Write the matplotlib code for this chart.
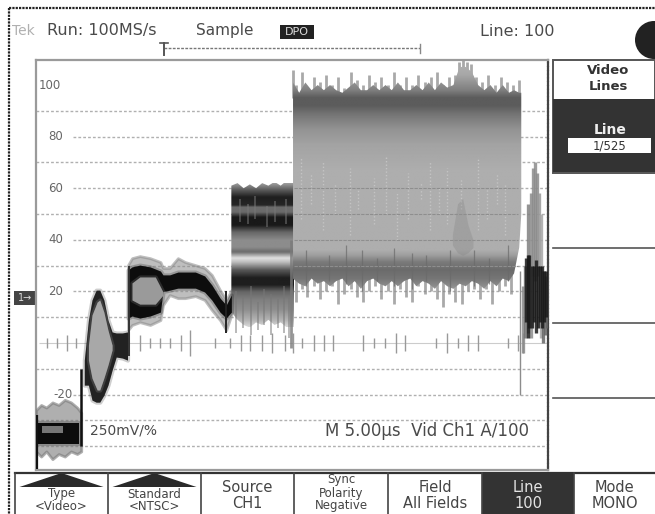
#!/usr/bin/env python3
# Oscilloscope capture of a video line: envelopes (us / IRE)
import numpy as np
import matplotlib
matplotlib.use("Agg")
import matplotlib.pyplot as plt
from matplotlib.patches import Polygon, Rectangle, Circle

W, H = 655, 514

GRID_LEVELS = [90, 80, 70, 60, 50, 40, 30, 20, 10, -10, -20, -30, -40]
GRID_LABELLED = [80, 60, 40, 20, -20]
Y_LABELS = ["100", "80", "60", "40", "20", "-20"]
Y_LABEL_VALUES = [100, 80, 60, 40, 20, -20]
CENTER_TICKS = [1.1, 2.0, 3.0, 3.9, 5.9, 6.2, 10.1, 11.1, 12.1, 13.0, 14.1, 15.0, 17.4, 18.9, 19.9,
                20.8, 22.0, 23.0, 24.2, 25.0, 25.9, 27.0, 28.0, 28.9, 31.8, 32.9, 33.9, 35.0, 35.9,
                38.9, 40.0, 41.0, 42.0, 43.0, 45.9, 46.9, 47.4]
CENTER_TICK_H = [2, 2, 3, 2, 2, 2, 3, 2, 2, 2, 3, 5, 2, 2, 3, 3, 3, 4, 3, 4, 2, 3, 3, 3, 3, 2, 2, 4, 3,
                 2, 4, 2, 3, 3, 2, 3, 4]

# sync tip
SYNC_T = [0.0, 0.5, 1.0, 1.6, 2.2, 2.8, 3.4, 4.0, 4.4]
SYNC_UP = [-26, -24, -25, -23, -24, -22, -23, -25, -27]
SYNC_LO = [-42, -44, -42, -45, -43, -44, -42, -43, -42]
SYNC_DARK_T = [0.2, 4.2]
SYNC_DARK_UP = [-31, -31]
SYNC_DARK_LO = [-39, -39]

# colour burst lens and tail
LENS_T = [4.7, 5.1, 5.45, 5.85, 6.2, 6.6, 7.0, 7.4, 7.8, 8.4, 8.9]
LENS_UP = [-6.6, 8.9, 16.7, 20.5, 20.5, 16.7, 8.9, 4.3, 3.9, 3.9, 4.3]
LENS_LO = [-16.3, -16.3, -22.1, -22.9, -22.9, -20.2, -16.3, -10.5, -5.4, -5.8, -6.6]
LENS_IN_T = [5.1, 5.45, 5.95, 6.2, 6.6, 7.0, 7.4]
LENS_IN_UP = [-0.8, 10.9, 15.9, 16.7, 12, 5, -0.8]
LENS_IN_LO = [-6.6, -13.6, -18.2, -18.2, -13.6, -8.5, -2.7]

# first step, plateau and trough
STEP_T = [8.95, 9.34, 10.1, 11.1, 12.1, 12.35, 13.0, 13.8, 14.5, 15.5, 16.4, 17.1, 17.9, 18.5, 19.0]
STEP_UP = [30.2, 32.9, 33.7, 32.9, 31.4, 29.1, 29.1, 32.9, 31.4, 30.2, 29.1, 26.4, 20.5, 16.7, 20.5]
STEP_LO = [5, 7, 8.1, 7, 8.9, 14.7, 18.6, 17.4, 17.4, 18.2, 16.7, 12.8, 8.9, 5, 10.9]
STEP_DARK_UP = [28.3, 29.5, 30.2, 29.5, 27.9, 26.4, 26.4, 27.5, 27.5, 27.5, 26, 22.5, 17.4, 14.7, 18.6]
STEP_DARK_LO = [9.7, 10.5, 9.7, 10.5, 12, 20, 20.5, 21.3, 21.3, 21.3, 19.8, 16.7, 12, 9.7, 12]
STEP_IN_T = [9.34, 10.1, 11.6, 12.35]
STEP_IN_UP = [23.3, 25.6, 25.6, 19.8]
STEP_IN_LO = [16.7, 15.1, 15.1, 18.6]

# second step, banded
BAND_T = [19.0, 19.6, 20.2, 20.8, 21.4, 22.0, 22.6, 23.2, 23.8, 24.4, 25.1]
BAND_UP = [61, 62, 60, 61.5, 60, 62, 61, 62.5, 61, 63, 63]
BAND_LO = [12, 9, 7, 6, 8, 7, 9, 7, 8, 6, 3]
BAND_IRE = [62, 59.3, 56.6, 53.5, 52.7, 50.8, 48.8, 45.7, 43, 39.9, 37.2, 35.3, 32.9, 31.4, 28.3,
            25.2, 22.5, 19.8, 16.7, 12.8, 8.9, 6.2]
BAND_GRAY = [.62, .35, .12, .15, .42, .42, .10, .10, .4, .55, .55, .42, .88, .75, .35,
             .12, .12, .40, .50, .56, .70, .85]
BAND_SPECK_T = [19.5, 20.1, 20.9, 21.6, 22.2, 22.9, 23.5, 24.1, 24.6, 19.8, 20.6, 21.3, 22.5, 23.2, 24.3]
BAND_SPECK_UP = [20, 18, 22, 16, 21, 19, 17, 22, 18, 56, 54, 57, 53, 55, 56]
BAND_SPECK_LO = [4, 6, 3, 5, 7, 3, 6, 4, 2, 47, 46, 48, 45, 47, 46]

# large pedestal
BLOCK_T = [25.0, 25.6, 26.2, 26.8, 27.4, 28.0, 28.6, 29.2, 29.8, 30.4, 31.0, 31.6, 32.2, 32.8, 33.4,
           34.0, 34.6, 35.2, 35.8, 36.4, 37.0, 37.6, 38.2, 38.8, 39.4, 40.0, 40.6, 41.2, 41.8, 42.4,
           43.0, 43.6, 44.2, 44.8, 45.4, 46.0, 46.5, 47.0, 47.2]
BLOCK_UP = [101, 97, 101, 98, 100, 98, 100, 98, 97, 99, 101, 98, 98, 100, 98,
            100, 98, 101, 98, 98, 100, 98, 101, 98, 101, 99, 100, 107, 107, 105,
            100, 98, 100, 97, 100, 97, 98, 97, 97]
BLOCK_LO = [25, 23, 22, 25, 23, 24, 22, 24, 25, 22, 24, 21, 24, 25, 23,
            22, 24, 22, 24, 25, 22, 24, 23, 21, 24, 22, 21, 23, 22, 24,
            23, 21, 24, 22, 25, 24, 27, 37, 50]
BLOCK_IRE = [110, 104, 98, 95, 92, 88.4, 82.6, 76.7, 67, 36, 34, 31.4, 28.3, 25, 20.5, 16]
BLOCK_GRAY = [.70, .66, .50, .36, .36, .46, .58, .64, .68, .68, .62, .48, .42, .46, .60, .78]
TOP_FRINGE_T = [25.0, 25.3, 25.9, 26.4, 27.0, 27.6, 28.2, 28.8, 29.4, 30.0, 30.6, 31.2, 31.8, 32.4, 33.0,
                33.6, 34.2, 34.8, 35.4, 36.0, 36.6, 37.2, 37.8, 38.4, 39.0, 39.6, 40.2, 40.8, 41.1, 41.5,
                41.9, 42.3, 42.8, 43.4, 44.0, 44.6, 45.2, 45.8, 46.4, 47.0]
TOP_FRINGE_UP = [106, 100, 105, 99, 103, 101, 104, 100, 103, 99, 105, 102, 100, 104, 101,
                 103, 100, 105, 100, 103, 100, 104, 101, 103, 105, 100, 103, 104, 109, 110,
                 109, 108, 103, 101, 104, 100, 103, 101, 100, 102]
LOW_FRINGE_T = [25.3, 25.9, 26.4, 27.0, 27.6, 28.2, 28.8, 29.4, 30.0, 30.6, 31.2, 31.8, 32.4, 33.0, 33.6,
                34.2, 34.8, 35.4, 36.0, 36.6, 37.2, 37.8, 38.4, 39.0, 39.6, 40.2, 40.8, 41.4, 42.0, 42.6,
                43.2, 43.8, 44.4, 45.0, 45.6, 46.2]
LOW_FRINGE_LO = [16, 21, 18, 22, 17, 20, 22, 15, 19, 21, 18, 16, 20, 22, 17,
                 20, 15, 21, 18, 16, 22, 19, 20, 17, 14, 19, 16, 15, 20, 21,
                 17, 21, 15, 20, 22, 19]
SPECK_T = [25.8, 26.7, 27.9, 29.1, 30.5, 31.3, 32.9, 34.0, 35.1, 36.2, 37.4, 38.3, 39.2, 40.0, 41.3,
           43.0, 43.9, 44.8, 45.6]
SPECK_UP = [72, 66, 70, 62, 68, 60, 64, 72, 58, 66, 62, 70, 60, 68, 64, 72, 60, 66, 62]
SPECK_LO = [48, 54, 44, 50, 42, 52, 46, 50, 40, 48, 56, 44, 50, 46, 52, 44, 48, 54, 42]
HAIR_T = [26.3, 28.5, 30.2, 31.7, 33.2, 34.8, 36.6, 37.9, 40.3, 42.6, 44.1, 45.9]
HAIR_UP = [36, 34, 38, 36, 33, 37, 35, 34, 36, 36, 33, 38]
HAIR_LO = [22, 24, 23, 20, 24, 22, 21, 24, 20, 22, 23, 24]
SMUDGE_T = [40.5, 41.0, 41.5, 42.0, 42.5]
SMUDGE_UP = [42, 54, 56, 46, 40]
SMUDGE_LO = [38, 35, 34, 35, 37]

# trailing burst, one stroke per column
TAIL_T = [47.4, 47.6, 47.9, 48.1, 48.3, 48.5, 48.7, 48.9, 49.1, 49.3, 49.5, 49.7, 47.7, 47.85, 48.0,
          48.2, 48.4, 48.6, 48.8, 49.0, 49.2, 49.4, 49.6]
TAIL_UP = [22, 30, 54, 58, 68, 70, 66, 58, 50, 28, 26, 24, 33, 34, 34, 30, 30, 32, 30, 30, 30, 28, 28]
TAIL_LO = [-4, 2, 4, 2, 26, 24, 26, 28, 2, 0, 3, 6, 8, 2, 6, 6, 8, 4, 6, 8, 6, 8, 10]
TAIL_GRAY = [.55, .45, .5, .55, .55, .55, .55, .6, .65, .4, .4, .4, .1, .1, .1, .1, .1, .1, .1, .1, .1, .1, .1]

BOTTOM_LABELS = [["Type", "<Video>"], ["Standard", "<NTSC>"], ["Source", "CH1"],
                 ["Sync", "Polarity", "Negative"], ["Field", "All Fields"], ["Line", "100"],
                 ["Mode", "MONO"]]
BOTTOM_EDGES = [15, 108, 201, 294, 388, 482, 574, 655]
SIDE_LINES = [248, 323, 398]

TXT = "#4a4a4a"


def soft_fill(ax, t, up, lo, color, z):
    # wide faint outline first, the picture has fuzzy edges
    ax.fill_between(t, up, lo, color=color, lw=3, alpha=0.22, zorder=z)
    ax.fill_between(t, up, lo, color=color, lw=0, zorder=z)


def blob(ax, t, up, lo, ire, gray):
    # vertical gray profile clipped to the envelope polygon
    pts = list(zip(t, up)) + list(zip(t[::-1], lo[::-1]))
    clip = Polygon(pts, closed=True, transform=ax.transData, fc="none", ec="none")
    ax.add_patch(clip)
    dense = np.arange(min(ire), max(ire), 0.25)
    prof = np.interp(dense, ire[::-1], gray[::-1])
    im = ax.imshow(prof[::-1, None], cmap="gray", vmin=0, vmax=1, aspect="auto", zorder=3,
                   extent=[min(t), max(t), min(ire), max(ire)], interpolation="bilinear")
    im.set_clip_path(clip)


def main():
    fig = plt.figure(figsize=(W / 100, H / 100), dpi=100, facecolor="white")
    plt.rcParams["font.family"] = "DejaVu Sans"

    # pixel overlay for the instrument chrome
    bg = fig.add_axes([0, 0, 1, 1])
    bg.set_xlim(0, W)
    bg.set_ylim(H, 0)
    bg.axis("off")

    ax = fig.add_axes([36 / W, 1 - 470 / H, 512 / W, 410 / H])
    ax.patch.set_alpha(0)
    xl, yl = (0, 49.8), (-49.2, 109.7)

    for v in GRID_LEVELS:
        t0 = 3.6 if v in GRID_LABELLED else 0
        ax.hlines(v, t0, 49.8, color="#b0b0b0", lw=1.0, ls=(0, (2, 1.5)), zorder=1)
    ax.hlines(0, 0.3, 49.8, color="#cccccc", lw=0.8, zorder=1)
    ax.vlines(CENTER_TICKS, [-h for h in CENTER_TICK_H], CENTER_TICK_H, color="#999999", lw=1.0, zorder=1)
    for s, v in zip(Y_LABELS, Y_LABEL_VALUES):
        x = 0.3 if v == 100 else (1.2 if v > 0 else 1.7)
        ax.text(x, v, s, fontsize=8.5, color="#666666", va="center", ha="left", zorder=2)

    # sync tip
    ax.fill_between(SYNC_T, SYNC_UP, SYNC_LO, color="#7a7a7a", alpha=0.6, lw=2, zorder=3)
    soft_fill(ax, SYNC_DARK_T, SYNC_DARK_UP, SYNC_DARK_LO, "#0c0c0c", 4)
    ax.add_patch(Rectangle((0.6, -35), 2.0, 3, fc="#777777", ec="none", zorder=5))
    ax.vlines([0.1], -49, -28, color="#111111", lw=1.6, zorder=5)
    ax.vlines([4.4], -40, -10, color="#111111", lw=1.8, zorder=5)
    ax.vlines([9.0], -5, 30, color="#333333", lw=1.4, zorder=5)

    # burst lens
    soft_fill(ax, LENS_T, LENS_UP, LENS_LO, "#222222", 3)
    soft_fill(ax, LENS_IN_T, LENS_IN_UP, LENS_IN_LO, "#a8a8a8", 4)

    # step and plateau
    ax.fill_between(STEP_T, STEP_UP, STEP_LO, color="#8a8a8a", lw=2, alpha=0.55, zorder=3)
    soft_fill(ax, STEP_T, STEP_DARK_UP, STEP_DARK_LO, "#0d0d0d", 4)
    soft_fill(ax, STEP_IN_T, STEP_IN_UP, STEP_IN_LO, "#9a9a9a", 5)
    ax.vlines([18.5], 4, 20, color="#222222", lw=1.4, zorder=5)

    # banded step and pedestal
    blob(ax, BAND_T, BAND_UP, BAND_LO, BAND_IRE, BAND_GRAY)
    ax.vlines(BAND_SPECK_T, BAND_SPECK_LO, BAND_SPECK_UP, color="#777777", lw=1.2, alpha=0.6, zorder=5)
    ax.vlines([24.8], -2, 40, color="#7a7a7a", lw=2.0, alpha=0.8, zorder=5)
    ax.vlines(TOP_FRINGE_T, 95, TOP_FRINGE_UP, color="#8c8c8c", lw=2.0, alpha=0.75, zorder=2.5)
    ax.vlines(LOW_FRINGE_T, LOW_FRINGE_LO, 27, color="#8c8c8c", lw=2.0, alpha=0.75, zorder=2.5)
    blob(ax, BLOCK_T, BLOCK_UP, BLOCK_LO, BLOCK_IRE, BLOCK_GRAY)
    ax.vlines(SPECK_T, SPECK_LO, SPECK_UP, color="#c4c4c4", lw=1.0, ls=(0, (1, 1.5)), zorder=5)
    ax.vlines(HAIR_T, HAIR_LO, HAIR_UP, color="#6a6a6a", lw=0.9, alpha=0.7, zorder=5)
    ax.fill_between(SMUDGE_T, SMUDGE_UP, SMUDGE_LO, color="#808080", lw=0, alpha=0.3, zorder=5)
    ax.hlines([60, 50, 40, 30], 25.1, 46.9, color="#8e8e8e", lw=0.8, ls=(0, (3, 1)), zorder=5)

    # trailing burst
    ax.vlines([47.05], -20, 28, color="#8c8c8c", lw=1.0, zorder=4)
    ax.vlines(TAIL_T, TAIL_LO, TAIL_UP, colors=[str(g) for g in TAIL_GRAY], lw=2.4, alpha=0.85, zorder=4)

    ax.set_xlim(*xl)
    ax.set_ylim(*yl)
    ax.set_xticks([])
    ax.set_yticks([])
    for sp in ax.spines.values():
        sp.set_color("#9a9a9a")
        sp.set_linewidth(1.6)
    ax.spines["right"].set_color("#444444")
    ax.spines["right"].set_linestyle((0, (1, 0.7)))

    ax.text(5.3, -34, "250mV/%", fontsize=10, color=TXT, va="center", zorder=6)
    ax.text(48, -34, "M 5.00µs  Vid Ch1 A/100", fontsize=12, color=TXT, va="center", ha="right", zorder=6)

    # outer frame
    bg.plot([9, 9], [8, H], color="#222222", lw=1.6, ls=(0, (1, 0.5)))
    bg.plot([9, W], [8, 8], color="#222222", lw=1.6, ls=(0, (1, 0.5)))

    # header
    bg.text(12, 31, "Tek", fontsize=10, color="#b0b0b0", va="center")
    bg.text(47, 31, "Run: 100MS/s", fontsize=11.5, color=TXT, va="center")
    bg.text(196, 31, "Sample", fontsize=11, color=TXT, va="center")
    bg.add_patch(Rectangle((280, 25), 34, 14, fc="#222222", ec="none"))
    bg.text(297, 32, "DPO", fontsize=8, color="#dddddd", va="center", ha="center")
    bg.text(480, 31, "Line: 100", fontsize=11.5, color=TXT, va="center")
    bg.add_patch(Circle((654, 40), 19, fc="#222222", ec="none"))
    bg.plot([164, 420], [48, 48], color="#777777", lw=1, ls=(0, (2, 1)))
    bg.plot([164, 164], [43, 55], color="#555555", lw=1.4)
    bg.plot([160, 168], [43, 43], color="#555555", lw=1.2)
    bg.plot([420, 420], [44, 53], color="#888888", lw=1)

    # ground marker
    bg.add_patch(Rectangle((14, 291), 21, 14, fc="#444444", ec="none"))
    bg.text(25, 298, "1→", fontsize=7, color="#dddddd", va="center", ha="center")

    # side menu
    bg.add_patch(Rectangle((553, 60), 102, 113, fc="none", ec="#555555", lw=1.4))
    bg.add_patch(Rectangle((553, 99), 102, 73, fc="#333333", ec="none"))
    bg.text(608, 71, "Video", fontsize=9.5, color="#333333", ha="center", va="center", weight="bold")
    bg.text(608, 87, "Lines", fontsize=9.5, color="#333333", ha="center", va="center", weight="bold")
    bg.text(610, 130, "Line", fontsize=10, color="#eeeeee", ha="center", va="center", weight="bold")
    bg.add_patch(Rectangle((568, 138), 83, 15, fc="white", ec="none"))
    bg.text(610, 146, "1/525", fontsize=8.5, color="#333333", ha="center", va="center")
    for y in SIDE_LINES:
        bg.plot([553, W], [y, y], color="#555555", lw=1.2)

    # bottom menu
    bg.plot([15, W], [473, 473], color="#333333", lw=1.6)
    bg.add_patch(Rectangle((BOTTOM_EDGES[5], 473), BOTTOM_EDGES[6] - BOTTOM_EDGES[5], 41, fc="#333333", ec="none"))
    for x in BOTTOM_EDGES[:-1]:
        bg.plot([x, x], [473, H], color="#444444", lw=1.2)
    for i, lines in enumerate(BOTTOM_LABELS):
        cx = (BOTTOM_EDGES[i] + BOTTOM_EDGES[i + 1]) / 2
        col = "#e4e4e4" if i == 5 else "#444444"
        fs = 10.5
        if i < 2:
            bg.add_patch(Polygon([(cx - 42, 487), (cx, 473), (cx + 42, 487)], closed=True, fc="#2a2a2a", ec="none"))
            ys = [494, 506]
            fs = 8.5
        elif len(lines) == 3:
            ys = [480, 493, 506]
            fs = 8.5
        else:
            ys = [488, 503]
        for line, y in zip(lines, ys):
            bg.text(cx, y, line, fontsize=fs, color=col, ha="center", va="center", clip_on=True)

    fig.savefig("out.png", dpi=100, facecolor="white")


if __name__ == "__main__":
    main()
